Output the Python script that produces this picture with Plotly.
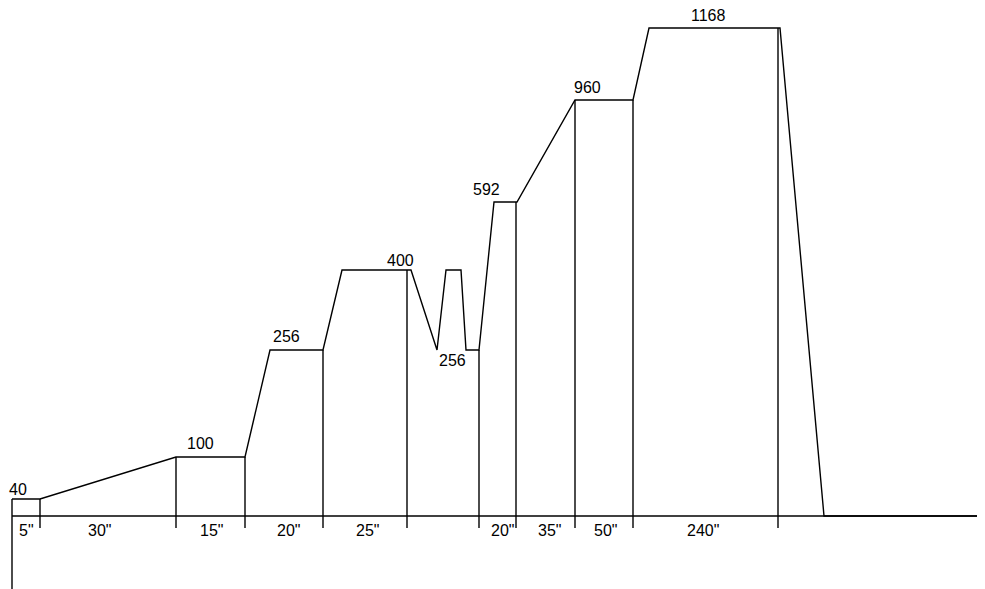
import plotly.graph_objects as go

# ---- data (schematic temperature/time profile) ----
# segment boundaries along the time axis (schematic drawing units)
boundaries = [40, 176, 245, 323, 407, 479, 516, 575, 633, 778]
axis_start = 12
axis_end = 990
# duration labels for the segments between consecutive boundaries
segment_labels = ['5"', '30"', '15"', '20"', '25"', '', '20"', '35"', '50"', '240"']
segment_label_x = [26, 99, 211, 288, 367, None, 502, 549, 605, 703]

# profile: schematic x positions and temperatures at those points
profile_x = [12, 40, 176, 245, 270, 323, 342, 411, 437, 446, 461, 466, 475, 479, 494, 517, 575, 633, 649, 780, 824, 990]
profile_temp = [40, 40, 100, 100, 256, 256, 400, 400, 256, 400, 400, 256, 256, 256, 592, 592, 960, 960, 1168, 1168, 0, 0]

# schematic (non-linear) height of each temperature level in the drawing
level_of = {0: 0, 40: 17, 100: 59, 256: 166, 400: 246, 592: 314, 960: 416, 1168: 488}

# temperature at the top of each boundary's drop line
boundary_temp = [40, 100, 100, 256, 400, 256, 592, 960, 960, 1168]

# temperature labels
temp_labels = ["40", "100", "256", "400", "256", "592", "960", "1168"]
temp_label_x = [18, 200, 286, 400, 452, 486, 587, 708]
temp_label_y = [27, 73, 180, 256, 156, 327, 429, 501]

fig_number = "28"

# the page body adds an 8px offset; compensate in the axis ranges
OFF = 8

# ---- build figure ----
line_style = dict(color="black", width=1.4)
fig = go.Figure()

# profile line
fig.add_trace(go.Scatter(x=profile_x, y=[level_of[t] for t in profile_temp],
                         mode="lines", line=line_style, hoverinfo="skip"))

# baseline
fig.add_trace(go.Scatter(x=[axis_start, axis_end], y=[0, 0], mode="lines",
                         line=dict(color="black", width=1.6), hoverinfo="skip"))

# left axis line (from the top of the first step down past the baseline)
fig.add_trace(go.Scatter(x=[axis_start, axis_start], y=[level_of[profile_temp[0]], -90],
                         mode="lines", line=line_style, hoverinfo="skip"))

# drop lines and ticks at each boundary
dx, dy = [], []
for bx, bt in zip(boundaries, boundary_temp):
    dx += [bx, bx, None]
    dy += [level_of[bt], -12, None]
fig.add_trace(go.Scatter(x=dx, y=dy, mode="lines", line=line_style, hoverinfo="skip"))

# segment duration labels
for lab, lx in zip(segment_labels, segment_label_x):
    if not lab:
        continue
    fig.add_annotation(x=lx, y=-14, text=lab, showarrow=False,
                       xanchor="center", yanchor="middle",
                       font=dict(family="Liberation Sans, Arial, sans-serif", size=16, color="black"))

# temperature labels
for lab, lx, ly in zip(temp_labels, temp_label_x, temp_label_y):
    fig.add_annotation(x=lx, y=ly, text=lab, showarrow=False,
                       xanchor="center", yanchor="middle",
                       font=dict(family="Liberation Sans, Arial, sans-serif", size=16, color="black"))

# figure number (cut off at the top of the page)
fig.add_annotation(x=32, xref="x", y=0.993, yref="paper", text="<b>" + fig_number + "</b>",
                   showarrow=False, xanchor="center", yanchor="bottom",
                   font=dict(family="Liberation Sans, Arial, sans-serif", size=32, color="black"))

fig.update_layout(
    width=985, height=589,
    margin=dict(l=0, r=0, t=0, b=0),
    paper_bgcolor="white", plot_bgcolor="white",
    showlegend=False,
    xaxis=dict(range=[OFF, 985 + OFF], visible=False, fixedrange=True),
    yaxis=dict(range=[-73 - OFF, 516 - OFF], visible=False, fixedrange=True),
)

fig.write_html("out.html")
